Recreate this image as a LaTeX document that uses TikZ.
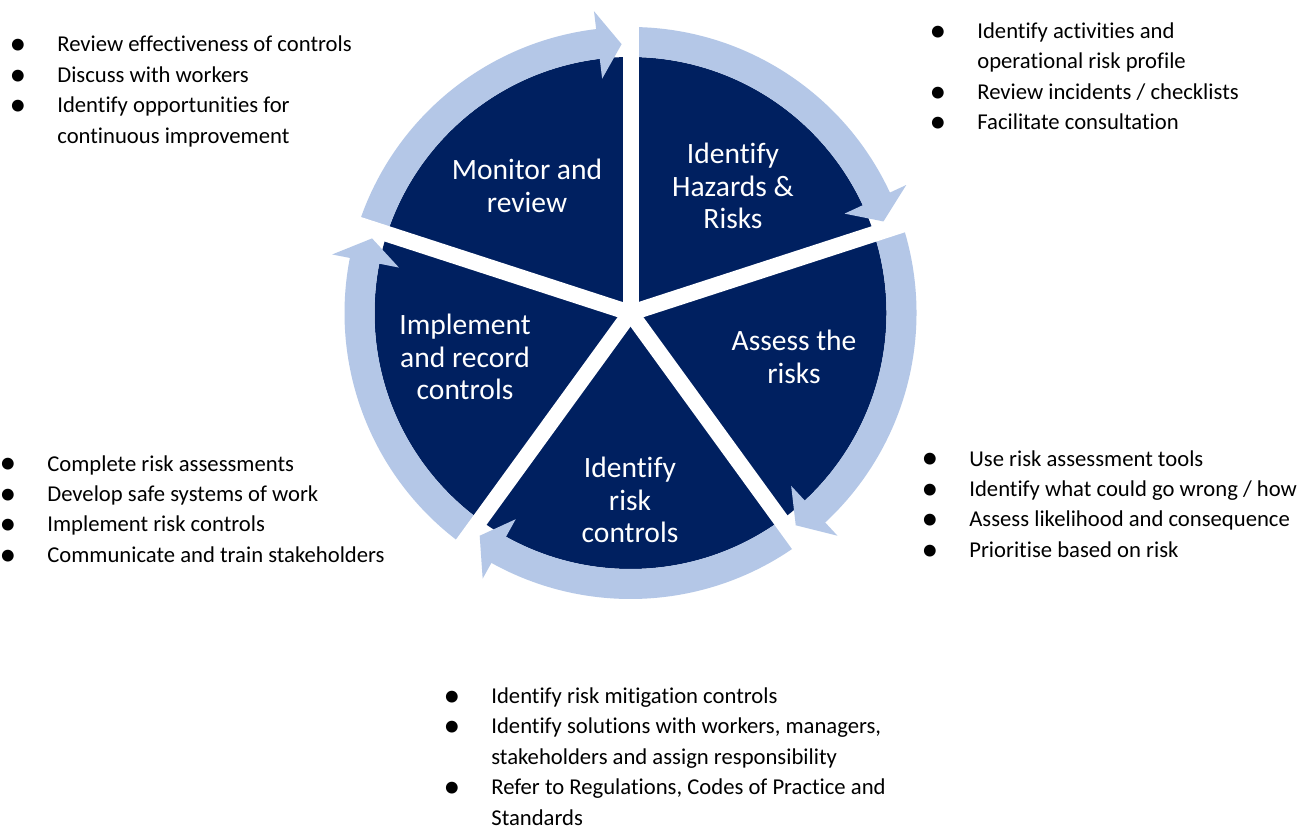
\documentclass[tikz,border=0pt]{standalone}
\usepackage{fontspec}
\setmainfont{Carlito}[Ligatures={NoCommon}]
\newcommand{\listdot}{\makebox[0pt]{\raisebox{-1.6pt}{\fontsize{19}{17}\selectfont\textbullet}}}
\begin{document}
\begin{tikzpicture}[x=0.02cm,y=0.02cm,
  wedgelabel/.style={color=white, align=center, inner sep=0pt, font=\fontsize{16.8}{18.7}\selectfont},
  bulletlist/.style={anchor=base west, inner sep=0pt, font=\fontsize{12.9}{17.3}\selectfont},
  ringarrow/.style={color=B4C7E7},
  gapline/.style={line width=0.32cm, color=FFFFFF}]
\definecolor{FFFFFF}{rgb}{1.00000,1.00000,1.00000}
\definecolor{002060}{rgb}{0.00000,0.12549,0.37647}
\definecolor{B4C7E7}{rgb}{0.70588,0.78039,0.90588}
\useasboundingbox (0,0) rectangle (1310,-827);
\fill[color=FFFFFF] (0,0) rectangle (1310,-827);
\begin{scope}[shift={(630.5,-313)}]
\fill[color=002060] (0,0) circle (256);
% ring arrows, one per wedge, clockwise
\fill[ringarrow] (90:286) arc[start angle=90, end angle=24.9, radius=286] -- (24.9:304) -- (19.9:269) -- (24.9:236) -- (24.9:256) arc[start angle=24.9, end angle=90, radius=256] -- cycle;
\fill[ringarrow] (18:286) arc[start angle=18, end angle=-47.1, radius=286] -- (-47.1:304) -- (-52.1:269) -- (-47.1:236) -- (-47.1:256) arc[start angle=-47.1, end angle=18, radius=256] -- cycle;
\fill[ringarrow] (-54:286) arc[start angle=-54, end angle=-119.1, radius=286] -- (-119.1:304) -- (-124.1:269) -- (-119.1:236) -- (-119.1:256) arc[start angle=-119.1, end angle=-54, radius=256] -- cycle;
\fill[ringarrow] (-126:286) arc[start angle=-126, end angle=-191.1, radius=286] -- (-191.1:304) -- (-196.1:269) -- (-191.1:236) -- (-191.1:256) arc[start angle=-191.1, end angle=-126, radius=256] -- cycle;
\fill[ringarrow] (-198:286) arc[start angle=-198, end angle=-263.1, radius=286] -- (-263.1:304) -- (-268.1:269) -- (-263.1:236) -- (-263.1:256) arc[start angle=-263.1, end angle=-198, radius=256] -- cycle;
% white gaps between the wedges
\draw[gapline] (0,0) -- (90:330);
\draw[gapline] (0,0) -- (18:330);
\draw[gapline] (0,0) -- (-54:330);
\draw[gapline] (0,0) -- (-126:330);
\draw[gapline] (0,0) -- (-198:330);
\end{scope}
\node[wedgelabel] (hazards) at (733,-186) {Identify\\Hazards \&\\Risks};
\node[wedgelabel] (assess) at (794,-357) {Assess the\\risks};
\node[wedgelabel] (riskctrl) at (630,-500) {Identify\\risk\\controls};
\node[wedgelabel] (implement) at (465,-357) {Implement\\and record\\controls};
\node[wedgelabel] (monitor) at (527,-186) {Monitor and\\review};
% bullet lists
\node[bulletlist] (monitorlist) at (17.5,-52) {\begin{tabular}[t]{@{}l@{\hspace{0.79cm}}l@{}}
\listdot & Review effectiveness of controls\\
\listdot & Discuss with workers\\
\listdot & Identify opportunities for\\
 & continuous improvement
\end{tabular}};
\node[bulletlist] (hazardslist) at (937.5,-38.5) {\begin{tabular}[t]{@{}l@{\hspace{0.79cm}}l@{}}
\listdot & Identify activities and\\
 & operational risk profile\\
\listdot & Review incidents / checklists\\
\listdot & Facilitate consultation
\end{tabular}};
\node[bulletlist] (assesslist) at (929.5,-466) {\begin{tabular}[t]{@{}l@{\hspace{0.79cm}}l@{}}
\listdot & Use risk assessment tools\\
\listdot & Identify what could go wrong / how\\
\listdot & Assess likelihood and consequence\\
\listdot & Prioritise based on risk
\end{tabular}};
\node[bulletlist] (implementlist) at (7.5,-471) {\begin{tabular}[t]{@{}l@{\hspace{0.79cm}}l@{}}
\listdot & Complete risk assessments\\
\listdot & Develop safe systems of work\\
\listdot & Implement risk controls\\
\listdot & Communicate and train stakeholders
\end{tabular}};
\node[bulletlist] (riskctrllist) at (451.5,-703.5) {\begin{tabular}[t]{@{}l@{\hspace{0.79cm}}l@{}}
\listdot & Identify risk mitigation controls\\
\listdot & Identify solutions with workers, managers,\\
 & stakeholders and assign responsibility\\
\listdot & Refer to Regulations, Codes of Practice and\\
 & Standards
\end{tabular}};
\end{tikzpicture}
\end{document}
